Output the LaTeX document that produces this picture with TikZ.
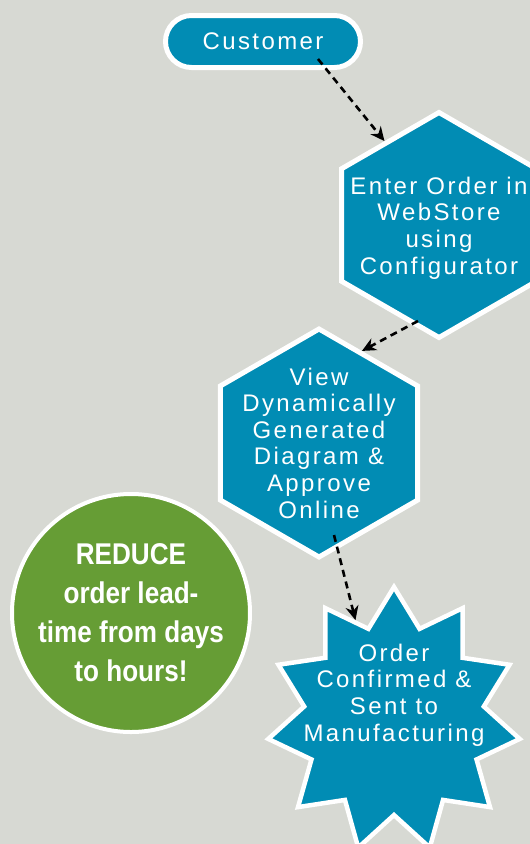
\documentclass[tikz,border=0pt]{standalone}
\usepackage{fontspec}
\setmainfont{Liberation Sans}
\newfontfamily\stepfont[LetterSpace=10]{Liberation Sans}
\newfontfamily\notefont[FakeStretch=0.87]{Liberation Sans}
\usetikzlibrary{shapes.geometric,shapes.misc,arrows.meta}

\definecolor{bgGray}{RGB}{215,217,211}
\definecolor{stepBlue}{RGB}{1,140,180}
\definecolor{noteGreen}{RGB}{102,157,53}

\tikzset{
  stepshape/.style={fill=stepBlue, draw=white, line width=5pt, inner sep=0pt},
  steptext/.style={text=white, align=center, inner sep=0pt,
    font=\stepfont\fontsize{24}{26.6}\selectfont},
  notetext/.style={text=white, align=center, inner sep=0pt,
    font=\notefont\bfseries\fontsize{30}{39}\selectfont},
  flowarrow/.style={line width=2.6pt, dash pattern=on 7pt off 5pt,
    -{Stealth[length=14pt,width=13pt,inset=4.5pt]}}
}

\begin{document}
\begin{tikzpicture}[x=1pt,y=1pt,yscale=-1]
%set diagram area 530 x 844
\clip (0,0) rectangle (530,844);
\fill[bgGray] (0,0) rectangle (530,844);

%Shape: Rounded Rectangle
\node[stepshape, rounded rectangle, minimum width=195, minimum height=52, steptext] (customer) at (263,41.5) {Customer};
%Shape: Hexagon
\node[stepshape, regular polygon, regular polygon sides=6, regular polygon rotate=30, minimum size=225] (enter) at (439,225) {};
%Shape: Hexagon
\node[stepshape, regular polygon, regular polygon sides=6, regular polygon rotate=30, minimum size=228] (view) at (319,443) {};
%Shape: Circle
\node[circle, fill=noteGreen, draw=white, line width=4pt, minimum size=238] (note) at (131,613) {};
%Shape: Star
\node[stepshape, star, star points=11, star point ratio=1.4, minimum size=266, xscale=0.955, line width=4.5pt] (order) at (394,720) {};

% Text Node
\node[steptext] (enter-text) at ([shift={(0,3)}]enter.center) {Enter Order in\\WebStore\\using\\Configurator};
% Text Node
\node[steptext] (view-text) at (view) {View\\Dynamically\\Generated\\Diagram \&\\Approve\\Online};
% Text Node
\node[notetext] (note-text) at (note) {REDUCE\\order lead-\\time from days\\to hours!};
% Text Node
\node[steptext] (order-text) at ([shift={(0,-25)}]order.center) {Order\\Confirmed \&\\Sent to\\Manufacturing};

%Dashed arrows
\draw[flowarrow] ([shift={(55,17.5)}]customer.center) -- (enter.123);
\draw[flowarrow] ([shift={(-21,96)}]enter.center) -- (view.65);
\draw[flowarrow] ([shift={(15,92)}]view.center) -- (order.112);

\end{tikzpicture}
\end{document}
